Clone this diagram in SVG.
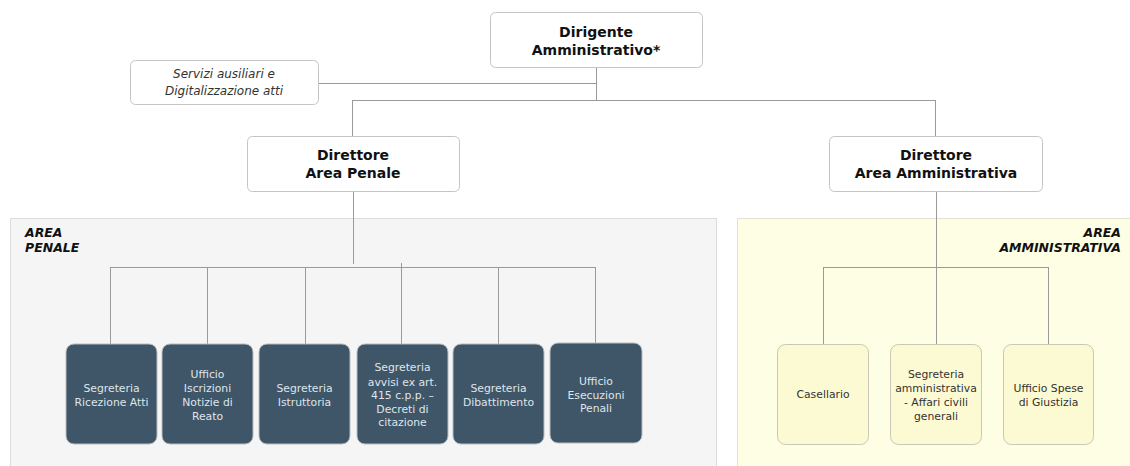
<svg xmlns="http://www.w3.org/2000/svg" width="1130" height="466" viewBox="0 0 1130 466">
<style>
.bg{fill:#ffffff}
.top{fill:#ffffff;stroke:#c4c4c4;stroke-width:1}
.hd{font-family:"DejaVu Sans",Verdana,sans-serif;font-weight:bold;font-size:14px;fill:#111;text-anchor:middle}
.it{font-family:"DejaVu Sans",Verdana,sans-serif;font-style:italic;font-size:12px;fill:#333;text-anchor:middle}
.area-p{fill:#f5f5f5;stroke:#dcdcdc;stroke-width:1}
.area-a{fill:#fefee4;stroke:#e2e2d6;stroke-width:1}
.al{font-family:"DejaVu Sans",Verdana,sans-serif;font-weight:bold;font-style:italic;font-size:12.5px;fill:#111}
.dk{fill:#3f5668;stroke:#b8bcc0;stroke-width:1}
.dt{font-family:"DejaVu Sans",Verdana,sans-serif;font-size:10.8px;fill:#dfe5ea;text-anchor:middle}
.yl{fill:#fcfad2;stroke:#c9c8b4;stroke-width:1}
.yt{font-family:"DejaVu Sans",Verdana,sans-serif;font-size:10.8px;fill:#333;text-anchor:middle}
.ln{stroke:#9a9a9a;stroke-width:1;fill:none}
</style>
<rect class="bg" x="0" y="0" width="1130" height="466"/>
<g id="area-penale">
<rect class="area-p" x="10.5" y="218.5" width="706" height="260"/>
<text class="al" x="25" y="237">AREA</text>
<text class="al" x="25" y="252">PENALE</text>
</g>
<g id="area-amministrativa">
<rect class="area-a" x="737.5" y="218.5" width="400" height="260"/>
<text class="al" x="1121" y="237" text-anchor="end">AREA</text>
<text class="al" x="1121" y="252" text-anchor="end">AMMINISTRATIVA</text>
</g>
<g id="connectors">
<path class="ln" d="M596.5 67 V100.5 M318 83.5 H596.5 M352.5 100.5 H935.5 M352.5 100 V136 M935.5 100 V136"/>
<path class="ln" d="M353.5 191 V264 M110.5 267.5 H595.5 M110.5 267 V344 M207.5 267 V344 M305.5 267 V344 M401.5 263 V344 M498.5 267 V344 M595.5 267 V343"/>
<path class="ln" d="M936.5 191 V344 M823.5 267.5 H1048.5 M823.5 267 V344 M1048.5 267 V344"/>
</g>
<g id="dirigente">
<rect class="top" x="490.5" y="12.5" width="212" height="55" rx="5"/>
<text class="hd" x="596" y="37">Dirigente</text>
<text class="hd" x="596" y="55">Amministrativo*</text>
</g>
<g id="servizi">
<rect class="top" x="130.5" y="60.5" width="188" height="44" rx="5"/>
<text class="it" x="224" y="78">Servizi ausiliari e</text>
<text class="it" x="224" y="95">Digitalizzazione atti</text>
</g>
<g id="direttore-penale">
<rect class="top" x="247.5" y="136.5" width="212" height="55" rx="5"/>
<text class="hd" x="353" y="160">Direttore</text>
<text class="hd" x="353" y="178">Area Penale</text>
</g>
<g id="direttore-amministrativa">
<rect class="top" x="829.5" y="136.5" width="213" height="55" rx="5"/>
<text class="hd" x="936" y="160">Direttore</text>
<text class="hd" x="936" y="178">Area Amministrativa</text>
</g>
<g id="segreteria-ricezione">
<rect class="dk" x="66" y="344" width="91" height="100" rx="8"/>
<text class="dt" x="111.5" y="392">Segreteria</text>
<text class="dt" x="111.5" y="406">Ricezione Atti</text>
</g>
<g id="ufficio-iscrizioni">
<rect class="dk" x="162" y="344" width="91" height="100" rx="8"/>
<text class="dt" x="207.5" y="378">Ufficio</text>
<text class="dt" x="207.5" y="392">Iscrizioni</text>
<text class="dt" x="207.5" y="406">Notizie di</text>
<text class="dt" x="207.5" y="419.5">Reato</text>
</g>
<g id="segreteria-istruttoria">
<rect class="dk" x="259" y="344" width="91" height="100" rx="8"/>
<text class="dt" x="304.5" y="392">Segreteria</text>
<text class="dt" x="304.5" y="406">Istruttoria</text>
</g>
<g id="segreteria-avvisi">
<rect class="dk" x="357" y="344" width="91" height="100" rx="8"/>
<text class="dt" x="402.5" y="371">Segreteria</text>
<text class="dt" x="402.5" y="385.5">avvisi ex art.</text>
<text class="dt" x="402.5" y="399">415 c.p.p. –</text>
<text class="dt" x="402.5" y="412.5">Decreti di</text>
<text class="dt" x="402.5" y="426">citazione</text>
</g>
<g id="segreteria-dibattimento">
<rect class="dk" x="453" y="344" width="91" height="100" rx="8"/>
<text class="dt" x="498.5" y="392">Segreteria</text>
<text class="dt" x="498.5" y="406">Dibattimento</text>
</g>
<g id="ufficio-esecuzioni">
<rect class="dk" x="550" y="343" width="92" height="100" rx="8"/>
<text class="dt" x="596" y="385">Ufficio</text>
<text class="dt" x="596" y="398.5">Esecuzioni</text>
<text class="dt" x="596" y="412">Penali</text>
</g>
<g id="casellario">
<rect class="yl" x="777.5" y="344.5" width="91" height="100" rx="8"/>
<text class="yt" x="823" y="398">Casellario</text>
</g>
<g id="segreteria-amministrativa">
<rect class="yl" x="890.5" y="344.5" width="91" height="100" rx="8"/>
<text class="yt" x="936" y="378">Segreteria</text>
<text class="yt" x="936" y="392">amministrativa</text>
<text class="yt" x="936" y="406">- Affari civili</text>
<text class="yt" x="936" y="419.5">generali</text>
</g>
<g id="ufficio-spese">
<rect class="yl" x="1003.5" y="344.5" width="90" height="100" rx="8"/>
<text class="yt" x="1048.5" y="392">Ufficio Spese</text>
<text class="yt" x="1048.5" y="406">di Giustizia</text>
</g>
</svg>
